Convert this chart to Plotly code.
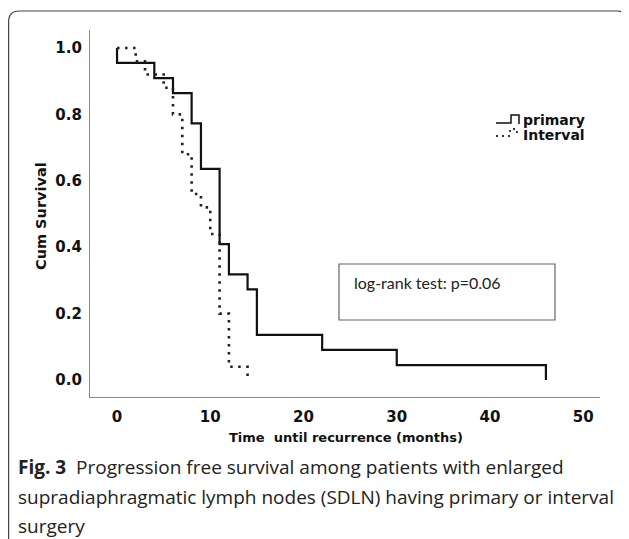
import plotly.graph_objects as go

# ---- data ----
primary_t = [0, 0, 4, 6, 8, 9, 11, 12, 14, 15, 22, 30, 46]
primary_s = [1.0, 0.955, 0.909, 0.864, 0.773, 0.636, 0.409, 0.318, 0.273, 0.136, 0.091, 0.045, 0.0]
interval_t = [0, 2, 3, 5, 6, 7, 8, 9, 10, 11, 12, 14]
interval_s = [1.0, 0.96, 0.92, 0.88, 0.80, 0.68, 0.56, 0.52, 0.44, 0.20, 0.04, 0.0]
x_ticks = [0, 10, 20, 30, 40, 50]
y_ticks = [0.0, 0.2, 0.4, 0.6, 0.8, 1.0]
y_tick_labels = ["0.0", "0.2", "0.4", "0.6", "0.8", "1.0"]
series_names = ["primary", "Interval"]
pvalue_text = "log-rank test: p=0.06"
x_title = "Time  until recurrence (months)"
y_title = "Cum Survival"
caption_lines = [
    "<b>Fig. 3</b>  Progression free survival among patients with enlarged",
    "supradiaphragmatic lymph nodes (SDLN) having primary or interval",
    "surgery",
]

# page body has an 8px margin, so the figure is drawn 8px smaller and
# screen coordinates are converted by subtracting that offset
OFF = 8
W, H = 629 - OFF, 539 - OFF
AX_L, AX_R, AX_T, AX_B = 90, 600, 30, 397          # screen px of the plot area
ML, MR, MT = AX_L - OFF, (629 - AX_R), AX_T - OFF
MB = H - (AX_B - OFF)
PW, PH = W - ML - MR, H - MT - MB


def px(x):
    return (x - OFF - ML) / PW


def py(y):
    return (H - MB - (y - OFF)) / PH


AX_FONT = "DejaVu Sans"

fig = go.Figure()
fig.add_trace(go.Scatter(x=primary_t, y=primary_s, mode="lines", line_shape="hv",
                         line=dict(color="#111111", width=2.2), name=series_names[0],
                         showlegend=False))
fig.add_trace(go.Scatter(x=interval_t, y=interval_s, mode="lines", line_shape="hv",
                         line=dict(color="#222222", width=2.6, dash="2.5px,5.5px"),
                         name=series_names[1], showlegend=False))

shapes = []
# outer rounded frame
shapes.append(dict(type="path", xref="paper", yref="paper",
                   path=f"M {px(8.6)},{py(545)} L {px(8.6)},{py(22)} Q {px(8.6)},{py(11)} {px(19)},{py(11)} "
                        f"L {px(617)},{py(11)} Q {px(627.5)},{py(11)} {px(627.5)},{py(22)} L {px(627.5)},{py(545)}",
                   line=dict(color="#444444", width=1.2)))
# p-value box
shapes.append(dict(type="rect", xref="paper", yref="paper",
                   x0=px(339), x1=px(555), y0=py(264), y1=py(320),
                   line=dict(color="#666666", width=1.2)))
# legend icons
shapes.append(dict(type="path", xref="paper", yref="paper",
                   path=f"M {px(496)},{py(123)} L {px(511)},{py(123)} L {px(511)},{py(115)} "
                        f"L {px(519)},{py(115)} L {px(519)},{py(124)}",
                   line=dict(color="#111111", width=1.5)))
shapes.append(dict(type="path", xref="paper", yref="paper",
                   path=f"M {px(496)},{py(136)} L {px(510)},{py(136)} L {px(510)},{py(129)} "
                        f"L {px(517)},{py(129)} L {px(517)},{py(135)}",
                   line=dict(color="#333333", width=1.8, dash="2px,4px")))

annotations = []
annotations.append(dict(text=series_names[0], xref="paper", yref="paper", x=px(521), y=py(120),
                        xanchor="left", yanchor="middle", showarrow=False,
                        font=dict(family=AX_FONT, size=14, color="#111111", weight="bold")))
annotations.append(dict(text=series_names[1], xref="paper", yref="paper", x=px(521), y=py(135),
                        xanchor="left", yanchor="middle", showarrow=False,
                        font=dict(family=AX_FONT, size=14, color="#111111", weight="bold")))
annotations.append(dict(text=pvalue_text, xref="paper", yref="paper", x=px(352), y=py(282),
                        xanchor="left", yanchor="middle", showarrow=False,
                        font=dict(family="Lato", size=16, color="#222222")))
annotations.append(dict(text=f"<b>{y_title}</b>", xref="paper", yref="paper", x=px(41), y=py(216),
                        xanchor="center", yanchor="middle", showarrow=False, textangle=-90,
                        font=dict(family=AX_FONT, size=14.5, color="#111111")))
annotations.append(dict(text=f"<b>{x_title}</b>", xref="paper", yref="paper", x=px(346), y=py(437),
                        xanchor="center", yanchor="middle", showarrow=False,
                        font=dict(family=AX_FONT, size=13, color="#111111")))
for i, line in enumerate(caption_lines):
    annotations.append(dict(text=line, xref="paper", yref="paper", x=px(16), y=py(467 + 29.5 * i),
                            xanchor="left", yanchor="middle", showarrow=False,
                            font=dict(family="Open Sans", size=19, color="#222222")))

fig.update_layout(
    width=W, height=H,
    margin=dict(l=ML, r=MR, t=MT, b=MB, pad=0),
    paper_bgcolor="white", plot_bgcolor="white",
    showlegend=False,
    shapes=shapes, annotations=annotations,
    xaxis=dict(range=[-2.9, 51.8], tickvals=x_ticks, showgrid=False, zeroline=False,
               showline=True, linecolor="#8a8a8a", linewidth=1.3, ticks="",
               ticklabelstandoff=6,
               tickfont=dict(family=AX_FONT, size=15, color="#111111", weight="bold")),
    yaxis=dict(range=[-0.051, 1.054], tickvals=y_ticks, ticktext=y_tick_labels, showgrid=False,
               zeroline=False, showline=True, linecolor="#8a8a8a", linewidth=1.3, ticks="",
               ticklabelstandoff=4,
               tickfont=dict(family=AX_FONT, size=15, color="#111111", weight="bold")),
)

fig.write_html("out.html")
